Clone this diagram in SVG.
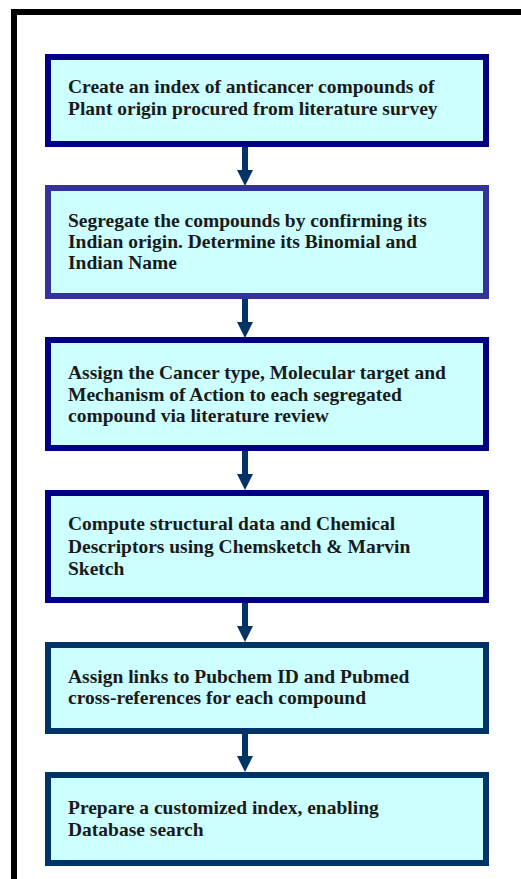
<svg xmlns="http://www.w3.org/2000/svg" width="521" height="879" viewBox="0 0 521 879">
<style>
.box{fill:#ccffff;stroke-width:6}
.t{font-family:"Liberation Serif","Times New Roman",serif;font-weight:bold;font-size:19.5px;fill:#1a1a1a}
.c{stroke:#003366;stroke-width:6;fill:none}
.h{fill:#003366}
</style>
<rect width="521" height="879" fill="#fff"/>
<path d="M14,879 V12 H521" fill="none" stroke="#000" stroke-width="6"/>
<g id="connectors">
<path class="c" d="M245,147 V172"/><polygon class="h" points="237,170 253,170 245,186"/>
<path class="c" d="M245,299 V324"/><polygon class="h" points="237,322 253,322 245,338"/>
<path class="c" d="M245,451 V476"/><polygon class="h" points="237,474 253,474 245,490"/>
<path class="c" d="M245,603 V628"/><polygon class="h" points="237,626 253,626 245,642"/>
<path class="c" d="M245,734 V758"/><polygon class="h" points="237,756 253,756 245,772"/>
</g>
<g id="n1">
<rect class="box" x="48" y="57" width="438" height="87" stroke="#000080"/>
<text class="t" x="68" y="93">Create an index of anticancer compounds of</text>
<text class="t" x="68" y="115">Plant origin procured from literature survey</text>
</g>
<g id="n2">
<rect class="box" x="48" y="188" width="438" height="108" stroke="#333399"/>
<text class="t" x="68" y="227">Segregate the compounds by confirming its</text>
<text class="t" x="68" y="248">Indian origin. Determine its Binomial and</text>
<text class="t" x="68" y="269">Indian Name</text>
</g>
<g id="n3">
<rect class="box" x="48" y="340" width="438" height="108" stroke="#000080"/>
<text class="t" x="68" y="379">Assign the Cancer type, Molecular target and</text>
<text class="t" x="68" y="401">Mechanism of Action to each segregated</text>
<text class="t" x="68" y="422">compound via literature review</text>
</g>
<g id="n4">
<rect class="box" x="48" y="493" width="438" height="107" stroke="#000080"/>
<text class="t" x="68" y="530">Compute structural data and Chemical</text>
<text class="t" x="68" y="553">Descriptors using Chemsketch &amp; Marvin</text>
<text class="t" x="68" y="575">Sketch</text>
</g>
<g id="n5">
<rect class="box" x="48" y="645" width="438" height="86" stroke="#003366"/>
<text class="t" x="68" y="683">Assign links to Pubchem ID and Pubmed</text>
<text class="t" x="68" y="704">cross-references for each compound</text>
</g>
<g id="n6">
<rect class="box" x="48" y="775" width="438" height="88" stroke="#003366"/>
<text class="t" x="68" y="814">Prepare a customized index, enabling</text>
<text class="t" x="68" y="836">Database search</text>
</g>
</svg>
